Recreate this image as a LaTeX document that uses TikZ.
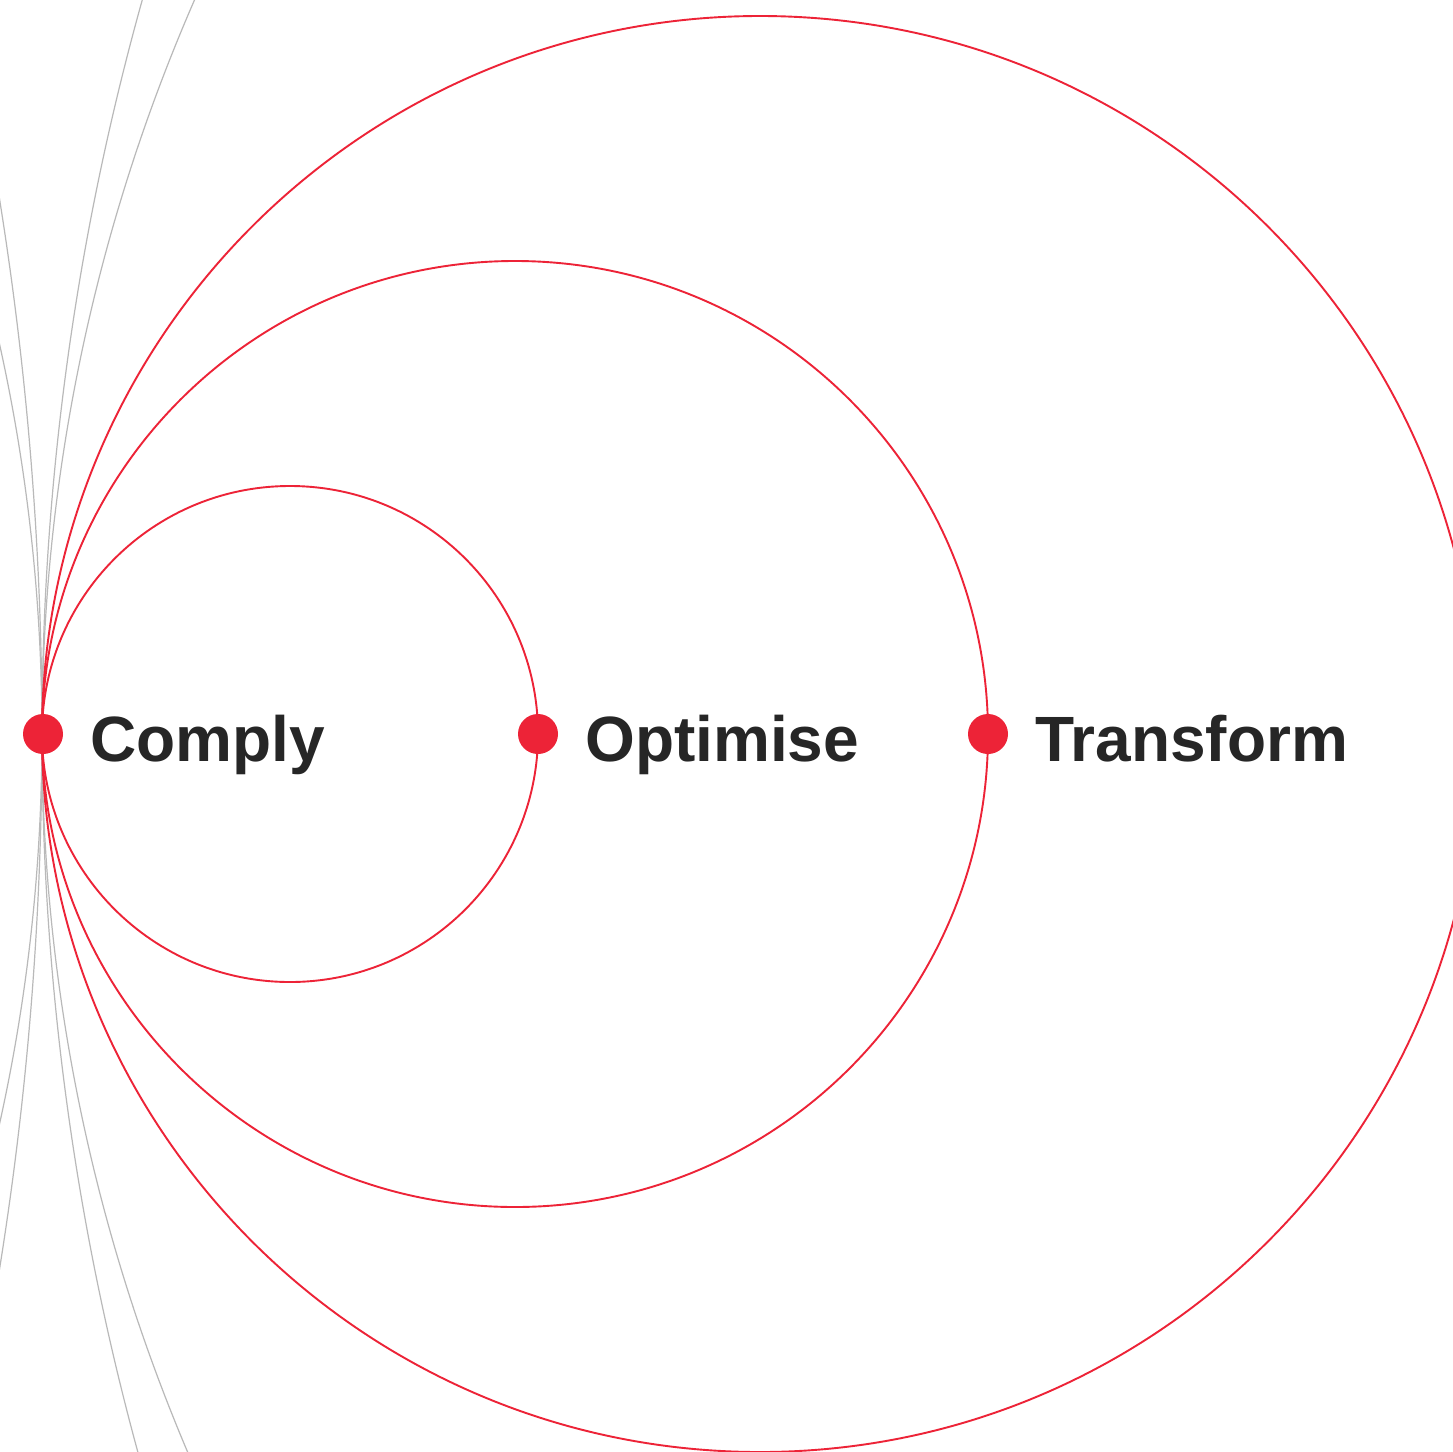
\documentclass[tikz,border=0pt]{standalone}
\usepackage{fontspec}
\setmainfont{Liberation Sans}
\definecolor{ringred}{RGB}{237,35,55}
\definecolor{labelgray}{RGB}{38,38,38}
\definecolor{fangray}{RGB}{185,185,185}
\begin{document}
\begin{tikzpicture}[x=1pt,y=-1pt,
  ring/.style={draw=ringred, line width=1.9pt},
  fan/.style={draw=fangray, line width=1.2pt},
  dot/.style={circle, fill=ringred, inner sep=0pt, minimum size=40pt},
  lab/.style={anchor=base west, inner sep=0pt, text=labelgray,
              font=\fontsize{64}{76}\selectfont\bfseries}]
\useasboundingbox (0,0) rectangle (1453,1451);
\clip (0,0) rectangle (1453,1451);
\fill[white] (0,0) rectangle (1453,1451);
% grey fan of circles through the tangency point
\draw[fan] (2760,734) circle[radius=2718pt];
\draw[fan] (1879,734) circle[radius=1837pt];
\draw[fan] (-3310,734) circle[radius=3352pt];
\draw[fan] (-1753,734) circle[radius=1795pt];
% red nested circles
\draw[ring] (290,734) circle[radius=248pt];
\draw[ring] (515,734) circle[radius=473pt];
\draw[ring] (760,734) circle[radius=718pt];
% dots
\node[dot] (d1) at (43,734) {};
\node[dot] (d2) at (538,734) {};
\node[dot] (d3) at (988,734) {};
% labels
\node[lab] (l1) at (90,761) {Comply};
\node[lab] (l2) at (585,761) {Optimise};
\node[lab] (l3) at (1035,761) {Transform};
\end{tikzpicture}
\end{document}
